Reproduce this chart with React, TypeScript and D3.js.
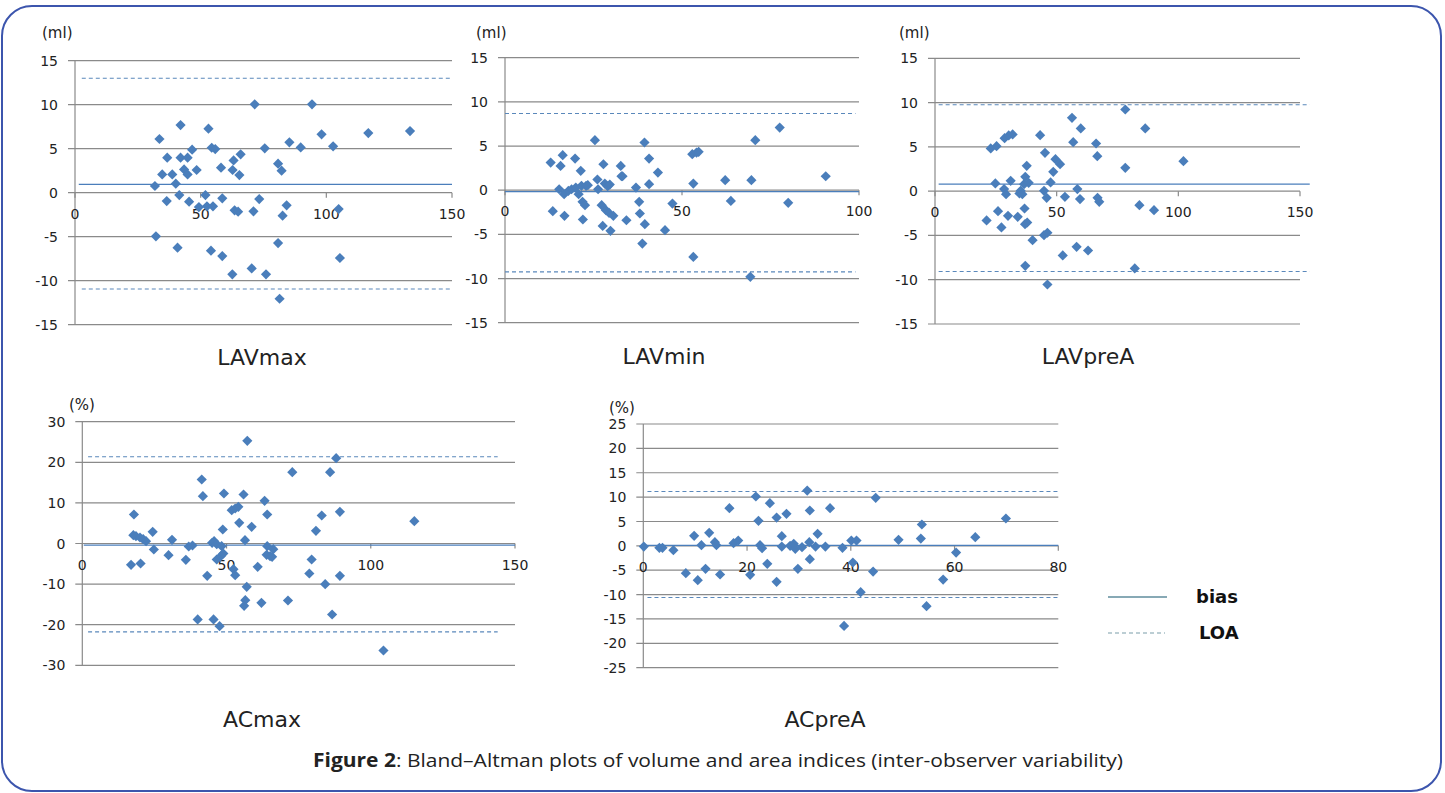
import React from "react";
import * as d3 from "d3";

// [mean, difference] pairs
const lavmaxPoints: [number, number][] = [
  [33.6, 6.1], [31.8, 0.76], [32.2, -4.96], [34.7, 2.08], [36.5, -0.95], [36.7, 3.98],
  [38.7, 2.08], [40.1, 1.02], [40.8, -6.25], [41.5, -0.27], [42.0, 7.69], [42.0, 3.98],
  [43.4, 2.65], [44.8, 3.98], [44.8, 2.08], [45.4, -1.02], [46.6, 4.89], [48.4, 2.58],
  [49.3, -1.63], [51.9, -0.27], [53.1, 7.27], [52.5, -1.55], [54.4, 5.11], [54.9, -1.55],
  [54.1, -6.59], [55.8, 4.96], [58.1, 2.84], [58.6, -0.64], [58.6, -7.2], [62.6, -9.28],
  [62.7, 2.58], [63.1, 3.67], [63.5, -2.0], [64.9, -2.16], [65.4, 2.0], [65.9, 4.36],
  [70.3, -8.6], [71.0, -2.12], [71.5, 10.04], [73.3, -0.72], [75.5, 5.04], [76.0, -9.28],
  [80.8, 3.3], [80.8, -5.72], [82.2, 2.5], [82.6, -2.61], [84.2, -1.44], [85.3, 5.72],
  [81.4, -12.05], [89.8, 5.15], [94.3, 10.04], [98.1, 6.63], [102.7, 5.27], [104.9, -1.86],
  [105.4, -7.42], [116.7, 6.78], [133.3, 7.0],
];

const lavminPoints: [number, number][] = [
  [12.9, 3.13], [13.5, -2.38], [15.3, 0.11], [15.7, 2.75], [16.3, 3.96], [16.7, -0.45],
  [16.8, -2.9], [17.9, -0.08], [18.8, 0.11], [19.8, 3.58], [20.0, 0.3], [20.8, -0.45],
  [21.4, 2.19], [21.6, 0.49], [21.9, -1.32], [22.0, -3.32], [22.6, -1.7], [22.9, 0.49],
  [23.4, 0.57], [25.4, 5.66], [26.1, 1.21], [26.3, 0.11], [27.3, -1.7], [27.6, -4.04],
  [27.8, 2.94], [28.2, 0.75], [28.5, -2.26], [29.0, 0.45], [29.6, 0.64], [29.4, -2.57],
  [29.8, -4.6], [30.6, -2.9], [32.7, 2.75], [32.9, 1.58], [33.2, 1.58], [34.3, -3.4],
  [37.0, 0.3], [37.9, -1.32], [38.1, -2.64], [38.8, -6.04], [39.4, 5.4], [39.5, -3.85],
  [40.7, 3.58], [40.7, 0.68], [43.2, 2.0], [45.2, -4.53], [47.3, -1.51], [52.9, 4.08],
  [53.2, 0.75], [53.2, -7.55], [54.1, 4.26], [54.7, 4.34], [62.2, 1.13], [63.8, -1.21],
  [69.6, 1.13], [69.3, -9.81], [70.7, 5.66], [77.6, 7.09], [80.0, -1.43], [90.6, 1.58],
];

const lavpreaPoints: [number, number][] = [
  [21.2, -3.31], [22.9, 4.82], [24.8, 0.87], [25.3, 5.08], [25.9, -2.26], [27.3, -4.1],
  [28.4, 0.23], [28.6, 5.98], [29.2, -0.34], [30.0, -2.79], [30.3, 6.29], [31.1, 1.17],
  [31.9, 6.4], [34.0, -2.9], [34.7, -0.26], [35.2, 0.04], [35.9, -0.34], [36.6, 0.79],
  [36.8, -1.96], [37.0, -3.73], [37.1, 1.62], [37.1, -8.43], [37.7, 2.86], [37.9, -3.54],
  [38.5, 0.94], [40.1, -5.53], [43.2, 6.32], [44.8, 0.04], [45.2, 4.33], [44.8, -4.97],
  [45.9, -0.75], [46.2, -4.7], [46.2, -10.54], [47.5, 0.98], [48.6, 2.18], [49.5, 3.61],
  [51.4, 3.05], [52.5, -7.26], [53.4, -0.64], [56.3, 8.28], [56.8, 5.53], [58.5, 0.23],
  [58.2, -6.29], [59.6, -0.9], [59.9, 7.08], [62.9, -6.7], [66.2, 5.38], [66.7, 3.95],
  [66.8, -0.75], [67.5, -1.2], [78.2, 9.22], [78.2, 2.63], [82.1, -8.73], [84.0, -1.58],
  [86.4, 7.08], [90.0, -2.15], [102.1, 3.39],
];

const acmaxPoints: [number, number][] = [
  [16.9, -5.25], [17.9, 7.14], [17.7, 2.05], [18.6, 1.8], [20.2, -4.93], [20.0, 1.48],
  [21.1, 1.07], [22.1, 0.57], [24.4, 2.87], [24.8, -1.48], [29.9, -2.87], [31.1, 0.9],
  [35.9, -4.02], [36.9, -0.74], [38.2, -0.49], [40.0, -18.7], [41.4, 15.76], [41.8, 11.66],
  [43.3, -7.96], [45.0, 0.16], [45.5, -18.7], [45.7, 0.57], [46.6, -0.16], [46.6, -3.94],
  [47.6, -20.36], [48.0, -3.12], [48.3, -0.66], [48.7, 3.45], [48.9, -2.46], [49.1, 12.32],
  [51.8, 8.21], [52.4, -6.32], [53.0, 8.62], [53.0, -7.8], [54.1, 9.03], [54.4, 5.09],
  [55.9, 12.07], [56.1, -15.35], [56.4, 0.82], [56.5, -13.96], [57.0, -10.67], [57.2, 25.3],
  [58.7, 4.1], [60.8, -5.75], [62.1, -14.61], [63.2, 10.51], [63.9, -2.79], [64.1, 7.14],
  [64.1, -0.66], [65.1, -3.12], [65.8, -3.28], [66.2, -1.4], [71.3, -14.04], [72.8, 17.57],
  [78.7, -7.39], [79.5, -3.94], [81.0, 3.12], [83.0, 6.9], [84.2, -10.02], [85.9, 17.57],
  [86.6, -17.49], [88.0, 21.02], [89.3, -7.96], [89.3, 7.8], [104.4, -26.35], [115.1, 5.5],
];

const acpreaPoints: [number, number][] = [
  [0.1, -0.14], [3.1, -0.41], [3.7, -0.41], [5.8, -0.89], [8.2, -5.61], [9.8, 2.05],
  [10.5, -7.05], [11.2, 0.14], [12.0, -4.72], [12.7, 2.67], [13.8, 0.75], [14.1, 0.14],
  [14.8, -5.88], [16.6, 7.73], [17.4, 0.55], [18.3, 1.09], [20.6, -5.95], [21.7, 10.12],
  [22.2, 5.13], [22.5, 0.14], [22.9, -0.48], [23.9, -3.69], [24.4, 8.76], [25.7, 5.81],
  [25.7, -7.39], [26.7, 1.98], [26.7, -0.14], [27.6, 6.57], [28.3, 0], [29.0, 0.41],
  [29.3, -0.62], [29.8, -4.72], [30.6, -0.27], [31.6, 11.35], [32.0, 0.75], [32.1, -2.74],
  [32.1, 7.25], [33.2, -0.14], [33.6, 2.46], [35.1, -0.14], [36.0, 7.73], [38.4, -0.41],
  [38.7, -16.42], [40.1, 1.09], [40.4, -3.42], [41.1, 1.09], [41.9, -9.51], [44.3, -5.27],
  [44.8, 9.85], [49.2, 1.23], [53.5, 1.5], [53.7, 4.38], [54.6, -12.38], [57.8, -6.91],
  [60.3, -1.37], [64.0, 1.78], [69.9, 5.61],
];

// bias and limits of agreement
const biasValues = [0.95, -0.15, 0.79, -0.41, 0.1];
const loaUpperValues = [13.0, 8.68, 9.75, 21.35, 11.15];
const loaLowerValues = [-10.95, -9.25, -9.07, -21.76, -10.6];

const panelTitles = ["LAVmax", "LAVmin", "LAVpreA", "ACmax", "ACpreA"];
const panelUnits = ["(ml)", "(ml)", "(ml)", "(%)", "(%)"];
const xTickSets = [[0, 50, 100, 150], [0, 50, 100], [0, 50, 100, 150], [0, 50, 100, 150], [0, 20, 40, 60, 80]];
const yTickSets = [
  [-15, -10, -5, 0, 5, 10, 15],
  [-15, -10, -5, 0, 5, 10, 15],
  [-15, -10, -5, 0, 5, 10, 15],
  [-30, -20, -10, 0, 10, 20, 30],
  [-25, -20, -15, -10, -5, 0, 5, 10, 15, 20, 25],
];
const allPoints = [lavmaxPoints, lavminPoints, lavpreaPoints, acmaxPoints, acpreaPoints];

// layout in page pixels
const layout = [
  { left: 75, right: 452, top: 60.7, bottom: 324.7, titleX: 262, titleY: 357, unitX: 42, unitY: 38, biasFrom: 1.5, biasTo: 150, loaFrom: 2.7, loaTo: 150 },
  { left: 505, right: 859, top: 57.7, bottom: 322.7, titleX: 664, titleY: 356, unitX: 476, unitY: 38, biasFrom: 0, biasTo: 100, loaFrom: 0, loaTo: 99 },
  { left: 935, right: 1300, top: 58.3, bottom: 324, titleX: 1088, titleY: 356, unitX: 899, unitY: 38, biasFrom: 1.5, biasTo: 154, loaFrom: 1.5, loaTo: 154 },
  { left: 82.3, right: 515, top: 421.7, bottom: 665.3, titleX: 262, titleY: 719, unitX: 69, unitY: 410, biasFrom: 0.5, biasTo: 150, loaFrom: 2, loaTo: 144 },
  { left: 643.3, right: 1058.3, top: 424, bottom: 667.7, titleX: 825, titleY: 719, unitX: 609, unitY: 413, biasFrom: 0, biasTo: 80, loaFrom: 0.8, loaTo: 80 },
];

const gridColor = "#8a8a8a";
const pointColor = "#4a7ebb";
const biasColor = "#4a7ebb";
const loaColor = "#5a88bb";
const tickFont = "'DejaVu Sans', Verdana, sans-serif";

const diamond = d3.symbol().type(d3.symbolSquare).size(52)();

function Panel({ i }: { i: number }) {
  const L = layout[i];
  const xt = xTickSets[i];
  const yt = yTickSets[i];
  const x = d3.scaleLinear().domain([0, xt[xt.length - 1]]).range([L.left, L.right]);
  const y = d3.scaleLinear().domain([yt[0], yt[yt.length - 1]]).range([L.bottom, L.top]);
  const y0 = y(0);
  return (
    <g>
      {yt.map((v) => (
        <g key={v}>
          <line x1={L.left - 7} x2={L.right} y1={y(v)} y2={y(v)} stroke={gridColor} strokeWidth={1.2} />
          <text x={L.left - 17} y={y(v)} dy="0.36em" textAnchor="end" fontFamily={tickFont} fontSize={14} fill="#222">
            {v}
          </text>
        </g>
      ))}
      <line x1={L.left} x2={L.left} y1={L.top} y2={L.bottom} stroke={gridColor} strokeWidth={1.2} />
      {xt.map((v) => (
        <g key={v}>
          <line x1={x(v)} x2={x(v)} y1={y0} y2={y0 + 5} stroke={gridColor} strokeWidth={1.2} />
          <text x={x(v)} y={y0 + 21} dy="0.36em" textAnchor="middle" fontFamily={tickFont} fontSize={14} fill="#222">
            {v}
          </text>
        </g>
      ))}
      <line x1={x(L.biasFrom)} x2={x(L.biasTo)} y1={y(biasValues[i])} y2={y(biasValues[i])} stroke={biasColor} strokeWidth={1.2} />
      {[loaUpperValues[i], loaLowerValues[i]].map((v, k) => (
        <line key={k} x1={x(L.loaFrom)} x2={x(L.loaTo)} y1={y(v)} y2={y(v)} stroke={loaColor} strokeWidth={1.1} strokeDasharray="4,3" />
      ))}
      {allPoints[i].map((p, k) => (
        <path key={k} d={diamond} transform={`translate(${x(p[0])},${y(p[1])}) rotate(45)`} fill={pointColor} />
      ))}
      <text x={L.unitX} y={L.unitY} fontFamily={tickFont} fontSize={15} fill="#222">
        {panelUnits[i]}
      </text>
      <text x={L.titleX} y={L.titleY} dy="0.36em" textAnchor="middle" fontFamily={tickFont} fontSize={22} fill="#222">
        {panelTitles[i]}
      </text>
    </g>
  );
}

export default function App() {
  return (
    <svg width={1445} height={793} style={{ position: "absolute", left: 0, top: 0, background: "#fff" }}>
      <rect x={2} y={6} width={1439} height={785} rx={30} ry={30} fill="#fff" stroke="#3c55ad" strokeWidth={2} />
      {panelTitles.map((_, i) => (
        <Panel key={i} i={i} />
      ))}
      <g>
        <line x1={1108} x2={1167} y1={597} y2={597} stroke="#5f8d9c" strokeWidth={1.3} />
        <text x={1196} y={597} dy="0.36em" fontFamily={tickFont} fontWeight="bold" fontSize={18} fill="#111">bias</text>
        <line x1={1108} x2={1165} y1={633} y2={633} stroke="#7a9eaa" strokeWidth={1.2} strokeDasharray="4,3" />
        <text x={1199} y={633} dy="0.36em" fontFamily={tickFont} fontWeight="bold" fontSize={18} fill="#111">LOA</text>
      </g>
      <text x={313} y={760} dy="0.36em" fontFamily="'Open Sans', sans-serif" fontSize={19} fill="#222" textLength={810} lengthAdjust="spacingAndGlyphs">
        <tspan fontWeight="bold">Figure 2</tspan>: Bland–Altman plots of volume and area indices (inter-observer variability)
      </text>
    </svg>
  );
}
